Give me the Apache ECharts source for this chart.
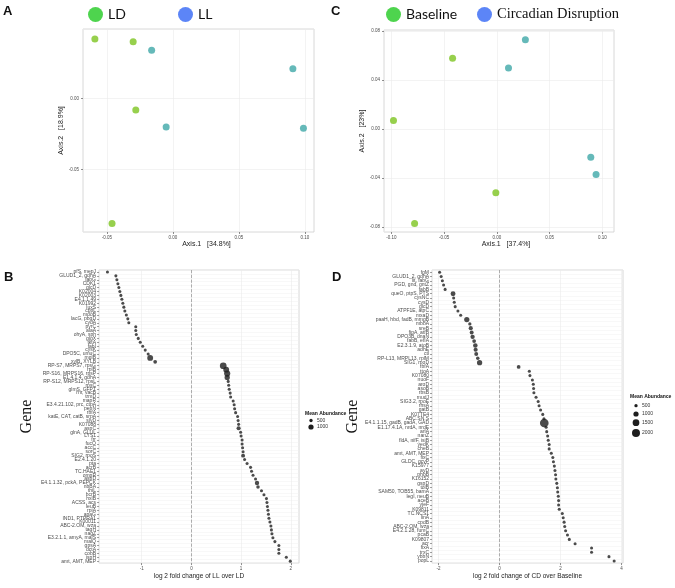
<!DOCTYPE html>
<html>
<head>
<meta charset="utf-8">
<script src="https://cdn.jsdelivr.net/npm/echarts@6/dist/echarts.min.js"></script>
<style>
  html, body { margin: 0; padding: 0; background: #fff; }
  #chart { width: 675px; height: 588px; }
</style>
</head>
<body>
<div id="chart"></div>
<script>
// PCoA panels (A, C)
const ldX = [-0.059, -0.030, -0.028, -0.046];
const ldY = [0.042, 0.040, -0.008, -0.088];
const llX = [-0.016, 0.091, -0.005, 0.099];
const llY = [0.034, 0.021, -0.020, -0.021];

const baseX = [-0.042, -0.098, -0.001, -0.078];
const baseY = [0.058, 0.007, -0.052, -0.077];
const cdX = [0.027, 0.011, 0.089, 0.094];
const cdY = [0.073, 0.050, -0.023, -0.037];

// panel B: genes, log2 fold change LL over LD, mean abundance
const genesB = [
  "pfS, mepJ", "GLUD1_2, gdhA", "fabG", "CDK1", "glcD", "K02004", "K02003", "E4.1.1.49",
  "K01992", "luxS", "cppL", "mdoB", "lacG, pbgD", "cydA", "pyrC", "alaA", "ohyA, sph",
  "glgX", "tktA", "fabI", "cysK", "DPO5C, umuC", "mglB", "xylB, XYLB",
  "RP-S7, MRPS7, rpsG", "rplB", "RP-S16, MRPS16, rpsP", "E1.4.1.4, gdhA",
  "RP-S12, MRPS12, rpsL", "rpsC", "glmS, GFPT", "rnr, vacB", "trmD", "mapR",
  "E3.4.21.102, prc, ctpA", "pepN", "rbfA", "katE, CAT, catB, srpA", "slyD", "K07088",
  "aspC", "glnA, GLUL", "LYS1", "frr", "fucO", "accC", "sorC", "SIG2, rpoS", "E2.4.1.20",
  "pta", "acrB", "TC.HAE1", "ompR", "aspD", "E4.1.1.32, pckA, PEPCK", "nbBA", "thiL",
  "bcrB", "hxlB", "ACSS, acs", "leuB", "rpiA", "apaG", "IND1, PTPRA1", "K00011",
  "ABC-2.OM, wza", "tagH", "nagZ", "E3.2.1.1, amyA, malS", "malQ", "gpsA", "dctA",
  "cobB", "ispH", "amt, AMT, MEP"
];
const lfcB = [
  -1.69, -1.52, -1.50, -1.48, -1.46, -1.44, -1.42, -1.40, -1.38, -1.36, -1.34, -1.31,
  -1.28, -1.26, -1.12, -1.12, -1.11, -1.07, -1.03, -0.98, -0.93, -0.87, -0.83, -0.73,
  0.64, 0.70, 0.72, 0.72, 0.74, 0.75, 0.76, 0.78, 0.79, 0.84, 0.86, 0.87, 0.89, 0.93,
  0.94, 0.95, 0.95, 0.99, 1.00, 1.02, 1.02, 1.03, 1.04, 1.04, 1.07, 1.12, 1.19, 1.21,
  1.24, 1.29, 1.32, 1.34, 1.41, 1.46, 1.51, 1.52, 1.53, 1.54, 1.55, 1.56, 1.58, 1.60,
  1.61, 1.62, 1.64, 1.68, 1.76, 1.76, 1.76, 1.91, 1.99
];
const abundB = [
  450, 450, 450, 450, 450, 450, 450, 450, 450, 450,
  450, 450, 450, 450, 450, 450, 450, 450, 450, 450,
  450, 450, 1200, 600,
  1500, 1200, 1300, 1000, 450, 450, 450, 450, 450, 450,
  450, 450, 450, 450, 450, 450, 700, 450, 450, 450,
  450, 450, 450, 650, 450, 450, 450, 450, 450, 450,
  750, 550, 450, 450, 450, 450, 450, 450, 450, 450,
  450, 450, 450, 450, 450, 450, 450, 450, 450, 450,
  450
];

// panel D: genes, log2 fold change CD over Baseline, mean abundance
const genesD = [
  "fgM", "GLUD1_2, gdhA", "lit, fabG", "PGD, gnd, gntZ", "fabB", "queO, ptpS, PTS",
  "cysNC", "cysD", "glcD", "ATPF1E, atpC", "mxaD", "paaH, hbd, fadB, mmgB", "mbbA",
  "sreB", "fipA, atfB", "DPO3B, dnaN", "fabB, efIA", "E2.3.1.9, atoB", "adhE", "ctl",
  "RP-L13, MRPL13, rplM", "SIG1, rpoD",
  "rbfA", "ttoA", "K07080", "nuoF", "aroD", "asoB", "rbsB", "mudJ", "SIG3.2, rpoE",
  "rhsA", "gatB", "K07TE4", "ABC.SN.S", "E4.1.1.15, gadB, gadA, GAD",
  "E1.17.4.1A, nrdA, nrdE", "arlA", "nanZ", "fldA, nifF, isiB", "yedK", "cheB",
  "amt, AMT, MEP", "fixC", "GLDC, gcvP", "K15977", "ayD", "phbB", "K16152", "gspD",
  "tolB", "SAM50, TOB55, bamA", "legI, neuB", "aceB", "yjeF", "K09811", "TC.NCS1",
  "linA", "cpdB", "ABC-2.OM, wza", "E4.2.1.28, fumC", "pcaB", "K09807", "acr", "fixA",
  "trxC", "ybbN", "popL"
];
const lfcD = [
  -1.96, -1.91, -1.87, -1.83, -1.78, -1.52, -1.50, -1.48, -1.45, -1.36, -1.27,
  -1.07, -0.97, -0.94, -0.91, -0.88, -0.83, -0.79, -0.78, -0.76, -0.71, -0.65,
  0.63, 0.98, 1.00, 1.08, 1.11, 1.12, 1.13, 1.20, 1.27, 1.30, 1.35, 1.42, 1.46, 1.47,
  1.53, 1.55, 1.58, 1.60, 1.63, 1.63, 1.70, 1.75, 1.77, 1.80, 1.82, 1.84, 1.85, 1.88,
  1.90, 1.91, 1.93, 1.94, 1.94, 1.96, 2.06, 2.09, 2.12, 2.14, 2.17, 2.23, 2.29, 2.48,
  3.02, 3.02, 3.59, 3.76
];
const abundD = [
  450, 450, 450, 450, 450, 900, 450, 450, 450, 450, 450,
  1000, 500, 700, 650, 750, 600, 800, 700, 650, 550, 1000,
  600, 450, 450, 450, 450, 450, 450, 450, 450, 450, 450, 450, 450, 2300,
  450, 450, 450, 450, 450, 450, 450, 450, 450, 450, 450, 450, 450, 450,
  450, 450, 450, 450, 450, 450, 450, 450, 450, 450, 450, 450, 450, 450,
  450, 450, 450, 450
];

const legendSizesB = [500, 1000];
const legendSizesD = [500, 1000, 1500, 2000];

const SANS = "Liberation Sans";
const GREEN = "#7dc421";
const TEAL = "#3ea7a8";

// ggplot-like area scale for the dot size
function dotSize(a) {
  return 0.21 * Math.sqrt(a) - 1.4;
}

function pairs(xs, ys) {
  return xs.map((x, i) => [x, ys[i]]);
}

function valueAxis(grid, min, max, step, digits, name, nameGap, isY) {
  return {
    type: "value",
    gridIndex: grid,
    min: min,
    max: max,
    minInterval: step,
    maxInterval: step,
    axisLine: { show: false, onZero: false },
    axisTick: { show: true, length: 2, lineStyle: { color: "#444", width: 0.6 } },
    axisLabel: {
      fontSize: 4.5,
      fontFamily: SANS,
      color: "#4d4d4d",
      margin: isY ? 4 : 3,
      showMinLabel: false,
      showMaxLabel: false,
      formatter: (v) => v.toFixed(digits)
    },
    splitLine: { show: true, lineStyle: { color: "#ebebeb", width: 0.6 } },
    name: name,
    nameLocation: "middle",
    nameGap: nameGap,
    nameTextStyle: { fontSize: 7, fontFamily: SANS, color: "#222" }
  };
}

function geneAxis(grid, genes, nameGap) {
  return {
    type: "category",
    gridIndex: grid,
    data: genes,
    inverse: true,
    axisLine: { show: false, onZero: false },
    axisTick: { show: true, alignWithLabel: true, length: 2, lineStyle: { color: "#444", width: 0.5 } },
    axisLabel: { interval: 0, fontSize: 5, fontFamily: SANS, color: "#4d4d4d", margin: 3 },
    splitLine: { show: true, interval: 0, lineStyle: { color: "#f0f0f0", width: 0.5 } },
    name: "Gene",
    nameLocation: "middle",
    nameGap: nameGap,
    nameTextStyle: { fontSize: 16, fontFamily: "Liberation Serif", color: "#111" }
  };
}

function foldSeries(axis, lfc, abund) {
  return {
    type: "scatter",
    xAxisIndex: axis,
    yAxisIndex: axis,
    data: lfc.map((v, i) => [v, i, abund[i]]),
    symbolSize: (d) => dotSize(d[2]),
    itemStyle: { color: "#1e1e1e" },
    markLine: {
      silent: true,
      symbol: ["none", "none"],
      label: { show: false },
      lineStyle: { color: "#9a9a9a", type: "dashed", width: 0.8 },
      data: [{ xAxis: 0 }]
    }
  };
}

function groupLegend(name, left, color, font, size) {
  return {
    data: [{ name: name, icon: "circle", itemStyle: { color: color } }],
    left: left,
    top: 7,
    padding: 0,
    itemWidth: 15,
    itemHeight: 15,
    selectedMode: false,
    textStyle: { fontSize: size, fontFamily: font, color: "#111" }
  };
}

function sizeLegend(title, x, y, sizes, steps) {
  const els = [{
    type: "text",
    style: { text: title, x: x, y: y, font: "bold 5px " + SANS, fill: "#111", verticalAlign: "middle" }
  }];
  sizes.forEach((s, i) => {
    const cy = steps[i];
    els.push({
      type: "circle",
      shape: { cx: x + 6, cy: cy, r: dotSize(s) / 2 },
      style: { fill: "#1e1e1e" }
    });
    els.push({
      type: "text",
      style: { text: String(s), x: x + 12, y: cy, font: "5px " + SANS, fill: "#333", verticalAlign: "middle" }
    });
  });
  return els;
}

function panelLetter(letter, x, y) {
  return {
    type: "text",
    style: { text: letter, x: x, y: y, font: "bold 13px " + SANS, fill: "#111" }
  };
}

const chart = echarts.init(document.getElementById("chart"));

const axisA1 = valueAxis(0, -0.068, 0.107, 0.05, 2, "Axis.1   [34.8%]", 9, false);
axisA1.nameTextStyle.padding = [0, 0, 0, 16];
const axisC1 = valueAxis(1, -0.107, 0.111, 0.05, 2, "Axis.1   [37.4%]", 9, false);
axisC1.nameTextStyle.padding = [0, 0, 0, 14];

const option = {
  animation: false,
  backgroundColor: "#fff",
  grid: [
    { left: 83, top: 29, width: 231, height: 203, show: true, borderColor: "#cfcfcf", borderWidth: 0.8 },
    { left: 384, top: 30, width: 230, height: 202, show: true, borderColor: "#cfcfcf", borderWidth: 0.8 },
    { left: 99, top: 270, width: 200, height: 297, show: true, borderColor: "#cfcfcf", borderWidth: 0.8 },
    { left: 432, top: 270, width: 191, height: 298, show: true, borderColor: "#cfcfcf", borderWidth: 0.8 }
  ],
  xAxis: [
    axisA1,
    axisC1,
    Object.assign(valueAxis(2, -1.86, 2.165, 1, 0, "log 2 fold change of LL over LD", 10, false), {
      nameTextStyle: { fontSize: 6.5, fontFamily: SANS, color: "#222" }
    }),
    Object.assign(valueAxis(3, -2.21, 4.05, 2, 0, "log 2 fold change of CD over Baseline", 10, false), {
      nameTextStyle: { fontSize: 6.5, fontFamily: SANS, color: "#222" }
    })
  ],
  yAxis: [
    valueAxis(0, -0.094, 0.049, 0.05, 2, "Axis.2   [18.9%]", 15, true),
    valueAxis(1, -0.084, 0.081, 0.04, 2, "Axis.2   [23%]", 16, true),
    geneAxis(2, genesB, 64),
    geneAxis(3, genesD, 68)
  ],
  legend: [
    groupLegend("LD", 88, "#22c922", "Lato", 14),
    groupLegend("LL", 178, "#3366f5", "Lato", 14),
    groupLegend("Baseline", 386, "#22c922", "Lato", 14),
    groupLegend("Circadian Disruption", 477, "#3366f5", "Liberation Serif", 14.5)
  ],
  series: [
    { name: "LD", type: "scatter", xAxisIndex: 0, yAxisIndex: 0, data: pairs(ldX, ldY), symbolSize: 7, itemStyle: { color: GREEN } },
    { name: "LL", type: "scatter", xAxisIndex: 0, yAxisIndex: 0, data: pairs(llX, llY), symbolSize: 7, itemStyle: { color: TEAL } },
    { name: "Baseline", type: "scatter", xAxisIndex: 1, yAxisIndex: 1, data: pairs(baseX, baseY), symbolSize: 7, itemStyle: { color: GREEN } },
    { name: "Circadian Disruption", type: "scatter", xAxisIndex: 1, yAxisIndex: 1, data: pairs(cdX, cdY), symbolSize: 7, itemStyle: { color: TEAL } },
    foldSeries(2, lfcB, abundB),
    foldSeries(3, lfcD, abundD)
  ],
  graphic: [
    panelLetter("A", 3, 5),
    panelLetter("C", 331, 5),
    panelLetter("B", 4, 271),
    panelLetter("D", 332, 271)
  ]
    .concat(sizeLegend("Mean Abundance", 305, 414, legendSizesB, [420.5, 427]))
    .concat(sizeLegend("Mean Abundance", 630, 397, legendSizesD, [405.7, 414, 422.7, 433]))
};

chart.setOption(option);
</script>
</body>
</html>
